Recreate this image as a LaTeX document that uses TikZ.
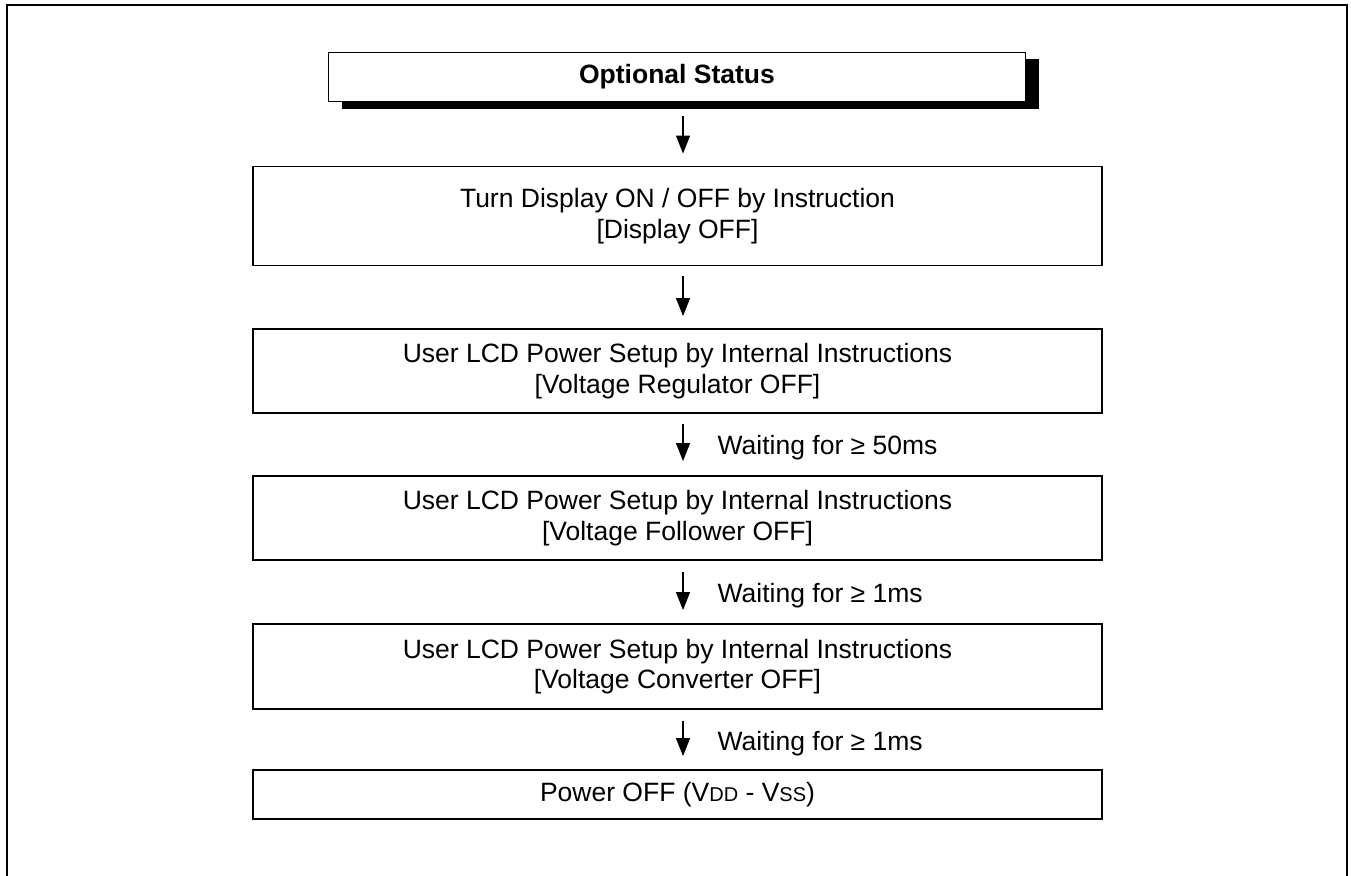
\documentclass[tikz,border=0pt]{standalone}
\usepackage{fontspec}
\setmainfont{Liberation Sans}
\usetikzlibrary{arrows.meta,calc,shadows}
\begin{document}
\begin{tikzpicture}[x=1pt,y=-1pt,
  txt/.style={font=\fontsize{26.5}{30.5}\selectfont},
  box/.style={draw, line width=1.9pt, minimum width=849pt, align=center, inner sep=0pt, txt},
  topbox/.style={draw, line width=1.9pt, fill=white, minimum width=697pt, minimum height=49pt, inner sep=0pt,
    font=\fontsize{26.5}{30.5}\selectfont\bfseries,
    drop shadow={shadow xshift=13pt, shadow yshift=-7pt, fill=black, opacity=1}},
  arr/.style={line width=1.4pt, -{Triangle[length=18pt,width=14pt]}},
  wait/.style={txt, anchor=west, inner sep=0pt, xshift=34pt, yshift=-5pt}]
\useasboundingbox (0,0) rectangle (1351,875);
\draw[line width=2pt] (7,876) -- (7,5) -- (1347,5) -- (1347,876);

\node[topbox] (top) at (677,77) {Optional Status};
\node[box, minimum height=99pt] (b1) at (677.5,216) {Turn Display ON / OFF by Instruction\\{}[Display OFF]};
\node[box, minimum height=84pt] (b2) at (677.5,371) {User LCD Power Setup by Internal Instructions\\{}[Voltage Regulator OFF]};
\node[box, minimum height=84pt] (b3) at (677.5,518) {User LCD Power Setup by Internal Instructions\\{}[Voltage Follower OFF]};
\node[box, minimum height=85pt] (b4) at (677.5,666.5) {User LCD Power Setup by Internal Instructions\\{}[Voltage Converter OFF]};
\node[box, minimum height=49pt] (b5) at (677.5,794.5) {Power OFF (V{\fontsize{20}{22}\selectfont DD} - V{\fontsize{20}{22}\selectfont SS})};

\coordinate (ax) at (683,0);
\draw[arr] ($(top.south -| ax)+(0,14)$) -- ($(b1.north -| ax)+(0,-12)$);
\draw[arr] ($(b1.south -| ax)+(0,10)$) -- ($(b2.north -| ax)+(0,-12)$);
\draw[arr] ($(b2.south -| ax)+(0,10)$) -- ($(b3.north -| ax)+(0,-14)$) node[midway, wait] {Waiting for ≥ 50ms};
\draw[arr] ($(b3.south -| ax)+(0,11)$) -- ($(b4.north -| ax)+(0,-13)$) node[midway, wait] {Waiting for ≥ 1ms};
\draw[arr] ($(b4.south -| ax)+(0,11)$) -- ($(b5.north -| ax)+(0,-13)$) node[midway, wait] {Waiting for ≥ 1ms};
\end{tikzpicture}
\end{document}
